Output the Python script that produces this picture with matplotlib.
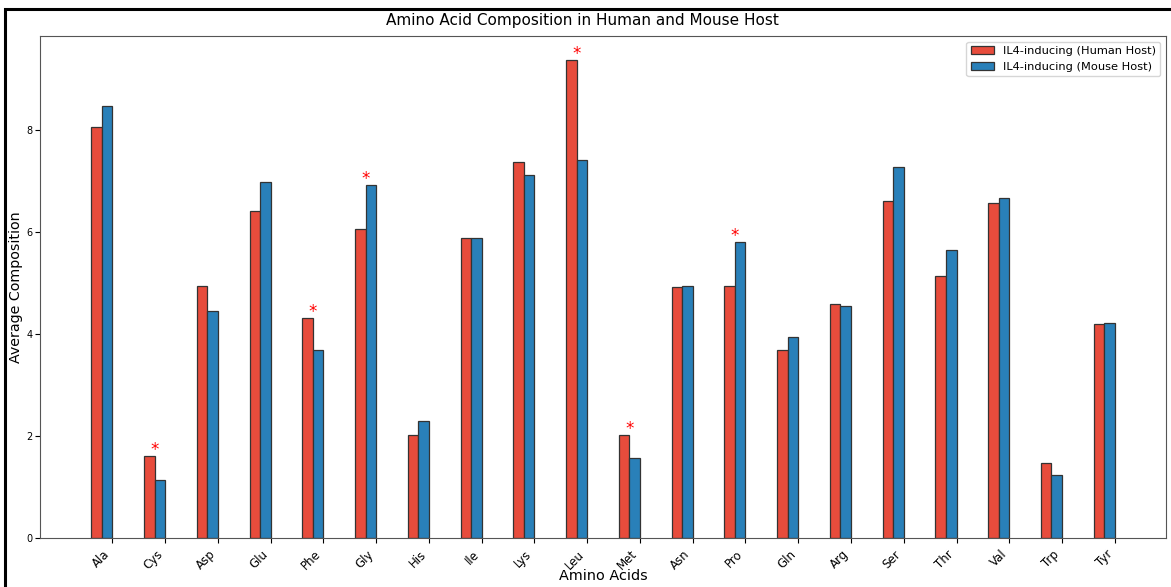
import matplotlib.pyplot as plt
import matplotlib.patches as patches
import numpy as np

# Composición media de aminoácidos (%) por hospedador
aminoacidos = ['Ala', 'Cys', 'Asp', 'Glu', 'Phe', 'Gly', 'His', 'Ile', 'Lys', 'Leu',
               'Met', 'Asn', 'Pro', 'Gln', 'Arg', 'Ser', 'Thr', 'Val', 'Trp', 'Tyr']
humano = [8.05, 1.61, 4.93, 6.40, 4.32, 6.05, 2.01, 5.87, 7.36, 9.37,
          2.01, 4.91, 4.94, 3.68, 4.59, 6.60, 5.13, 6.56, 1.47, 4.20]
raton = [8.46, 1.14, 4.45, 6.98, 3.68, 6.91, 2.30, 5.87, 7.12, 7.40,
         1.57, 4.93, 5.80, 3.93, 4.54, 7.27, 5.65, 6.66, 1.24, 4.22]
# Diferencias significativas
significativos = ['Cys', 'Phe', 'Gly', 'Leu', 'Met', 'Pro']

x = np.arange(len(aminoacidos))
width = 0.2

fig = plt.figure(figsize=(11.71, 5.87), dpi=100)
ax = fig.add_axes([0.0342, 0.0835, 0.9615, 0.8552])

ax.bar(x - 1.5 * width, humano, width, label='IL4-inducing (Human Host)',
       color='#E74C3C', edgecolor='#333333', linewidth=0.9)
ax.bar(x - 0.5 * width, raton, width, label='IL4-inducing (Mouse Host)',
       color='#2980B9', edgecolor='#333333', linewidth=0.9)

for i, aa in enumerate(aminoacidos):
    if aa in significativos:
        top = max(humano[i], raton[i])
        ax.text(x[i] - width, top - 0.06, '*', ha='center', va='bottom',
                color='red', fontsize=12)

ax.set_xticks(x)
ax.set_xticklabels(aminoacidos, rotation=45, ha='right', fontsize=8.5)
ax.tick_params(axis='y', labelsize=7, pad=2)
ax.set_xlabel('Amino Acids', fontsize=10.4)
ax.set_ylabel('Average Composition', fontsize=10.3)
ax.xaxis.set_label_coords(0.5, -0.062)
ax.yaxis.set_label_coords(-0.015, 0.5)
ax.set_title('Amino Acid Composition in Human and Mouse Host', fontsize=11, x=0.482, pad=8)
ax.legend(loc='upper right', fontsize=8.2)

for s in ax.spines.values():
    s.set_color('#555555')

# Marco exterior
fig.add_artist(patches.Rectangle((0.0045, -0.1), 1.2, 1.085, transform=fig.transFigure,
                                 fill=False, edgecolor='black', linewidth=2.2))

plt.savefig('out.png', dpi=100)
